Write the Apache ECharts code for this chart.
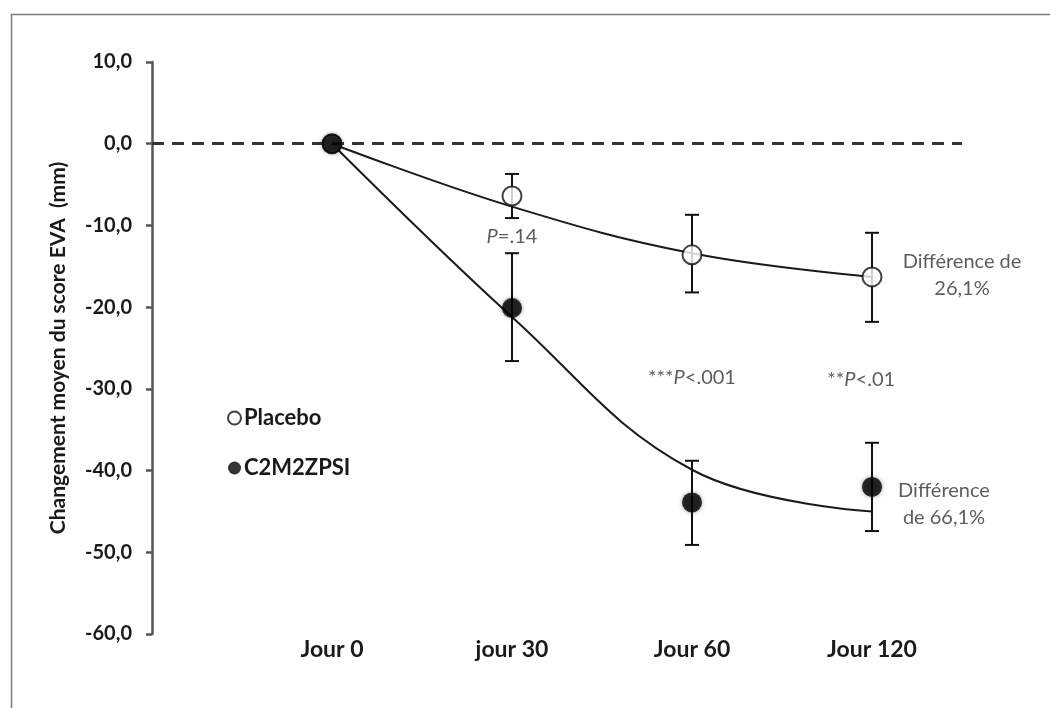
<!DOCTYPE html>
<html>
<head>
<meta charset="utf-8">
<script src="https://cdn.jsdelivr.net/npm/echarts@6/dist/echarts.min.js"></script>
<style>html,body{margin:0;padding:0;background:#fff}#c{width:1050px;height:708px}</style>
</head>
<body>
<div id="c"></div>
<script>
var categories = ['Jour 0', 'jour 30', 'Jour 60', 'Jour 120'];
var yTicks = [-60, -50, -40, -30, -20, -10, 0, 10];

var placeboMean = [0, -6.4, -13.6, -16.3];
var placeboLow  = [0, -9.1, -18.2, -21.8];
var placeboHigh = [0, -3.7, -8.7, -10.9];
var placeboTrend = [0, -7.7, -13.4, -16.3];

var c2Mean = [0, -20.1, -43.9, -42.0];
var c2Low  = [0, -26.6, -49.1, -47.4];
var c2High = [0, -13.4, -38.8, -36.6];
var c2Trend = [0, -21.2, -39.9, -45.0];

var annotations = [
  { x: 1, y: -11.3, text: '{i|P}=.14' },
  { x: 2, y: -28.6, text: '***{i|P}<.001' },
  { x: 2.94, y: -28.9, text: '**{i|P}<.01' },
  { x: 3.5, y: -16.1, text: 'Différence de\n26,1%' },
  { x: 3.4, y: -44.1, text: 'Différence\nde 66,1%' }
];

var FONT = 'Lato';

function pts(arr) { return arr.map(function (v, i) { return [i, v]; }); }
function bars(lo, hi) {
  var out = [];
  for (var i = 1; i < lo.length; i++) out.push([i, lo[i], hi[i]]);
  return out;
}
function errorRender(params, api) {
  var x = api.value(0);
  var lo = api.coord([x, api.value(1)]);
  var hi = api.coord([x, api.value(2)]);
  var cap = 7;
  var st = { stroke: '#111', lineWidth: 2 };
  return {
    type: 'group',
    children: [
      { type: 'line', shape: { x1: lo[0], y1: lo[1], x2: hi[0], y2: hi[1] }, style: st },
      { type: 'line', shape: { x1: lo[0] - cap, y1: lo[1], x2: lo[0] + cap, y2: lo[1] }, style: st },
      { type: 'line', shape: { x1: hi[0] - cap, y1: hi[1], x2: hi[0] + cap, y2: hi[1] }, style: st }
    ]
  };
}

var chart = echarts.init(document.getElementById('c'), null, { renderer: 'canvas' });
chart.setOption({
  backgroundColor: '#fff',
  animation: false,
  graphic: [{
    type: 'rect', left: 9, top: 12, shape: { width: 1100, height: 800 },
    style: { fill: 'none', stroke: '#7a7a7a', lineWidth: 1.5 }, silent: true, z: -1
  }],
  grid: { left: 152, top: 62, width: 810, height: 572, containLabel: false },
  legend: {
    orient: 'vertical', left: 222, top: 402, itemGap: 28, itemWidth: 13, itemHeight: 13,
    data: ['Placebo', 'C2M2ZPSI'],
    textStyle: { fontFamily: FONT, fontWeight: 'bold', fontSize: 22, color: '#1a1a1a', padding: [0, 0, 0, -2] }
  },
  xAxis: {
    type: 'value', min: -1, max: 3.5, interval: 1,
    axisLine: { show: false, onZero: false }, axisTick: { show: false }, splitLine: { show: false },
    axisLabel: {
      showMaxLabel: false, margin: 4,
      fontFamily: FONT, fontWeight: 'bold', fontSize: 23, color: '#1a1a1a',
      formatter: function (v) { var i = Math.round(v); return (i >= 0 && i < categories.length && Math.abs(v - i) < 1e-6) ? categories[i] : ''; }
    }
  },
  yAxis: {
    type: 'value', min: yTicks[0], max: yTicks[yTicks.length - 1], interval: 10,
    name: 'Changement moyen du score EVA  (mm)', nameLocation: 'middle', nameGap: 83,
    nameTextStyle: { fontFamily: FONT, fontWeight: 'bold', fontSize: 21, color: '#1a1a1a' },
    axisLine: { show: true, onZero: false, lineStyle: { color: '#555', width: 2.5 } },
    axisTick: { show: true, length: 6, lineStyle: { color: '#555', width: 2.5 } },
    splitLine: { show: false },
    axisLabel: {
      margin: 20, fontFamily: FONT, fontWeight: 'bold', fontSize: 20, color: '#1a1a1a',
      formatter: function (v) { return v.toFixed(1).replace('.', ','); }
    }
  },
  series: [
    {
      name: 'trendPlacebo', type: 'line', data: pts(placeboTrend), smooth: 0.4, symbol: 'none',
      lineStyle: { color: '#1a1a1a', width: 2 }, z: 2,
      markLine: {
        silent: true, symbol: 'none', label: { show: false },
        lineStyle: { color: '#333', width: 3, type: [12, 8] },
        data: [{ yAxis: 0 }]
      }
    },
    {
      name: 'trendC2', type: 'line', data: pts(c2Trend), smooth: 0.4, symbol: 'none',
      lineStyle: { color: '#1a1a1a', width: 2 }, z: 2
    },
    { name: 'errPlacebo', type: 'custom', renderItem: errorRender, data: bars(placeboLow, placeboHigh), z: 3 },
    { name: 'errC2', type: 'custom', renderItem: errorRender, data: bars(c2Low, c2High), z: 3 },
    {
      name: 'Placebo', type: 'scatter', data: pts(placeboMean), symbol: 'circle', symbolSize: 19,
      itemStyle: { color: '#fff', borderColor: '#111', borderWidth: 2 }, z: 4
    },
    {
      name: 'C2M2ZPSI', type: 'scatter', data: pts(c2Mean), symbol: 'circle', symbolSize: 20,
      itemStyle: { color: '#000', shadowBlur: 4, shadowColor: 'rgba(0,0,0,0.5)' }, z: 5
    },
    {
      name: 'annotations', type: 'scatter', symbolSize: 0, silent: true, z: 6,
      data: annotations.map(function (a) { return { value: [a.x, a.y], text: a.text }; }),
      label: {
        show: true, position: 'inside', align: 'center', verticalAlign: 'middle',
        fontFamily: FONT, fontSize: 20, color: '#333', lineHeight: 27,
        formatter: function (p) { return p.data.text; },
        rich: { i: { fontStyle: 'italic', fontFamily: FONT, fontSize: 20, color: '#333' } }
      }
    }
  ]
});
</script>
</body>
</html>
